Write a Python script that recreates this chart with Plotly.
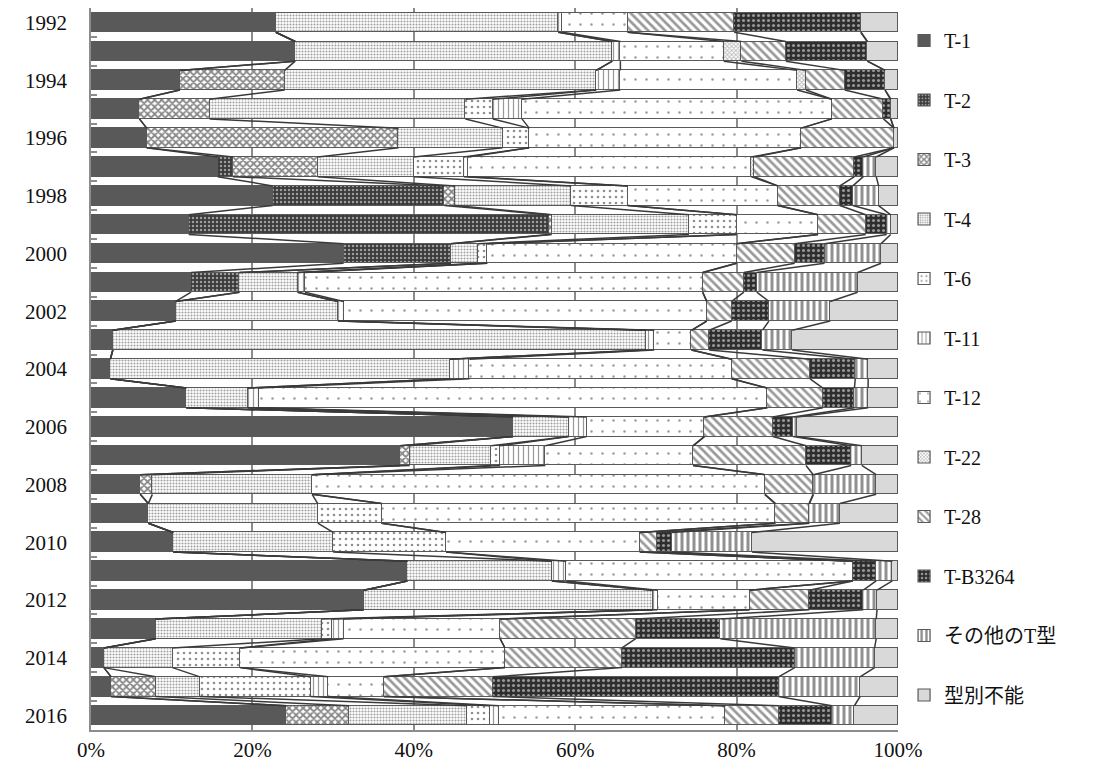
import plotly.graph_objects as go

years = list(range(1992, 2017))
series_names = ["T-1", "T-2", "T-3", "T-4", "T-6", "T-11", "T-12", "T-22", "T-28", "T-B3264", "その他のT型", "型別不能"]

t1 = [22.9, 25.3, 11.0, 6.0, 6.9, 15.7, 22.5, 12.1, 31.3, 12.4, 10.5, 2.7, 2.4, 11.8, 52.3, 38.3, 6.1, 7.1, 10.2, 39.2, 33.8, 8.0, 1.6, 2.5, 24.2]
t2 = [0, 0, 0, 0, 0, 1.9, 21.3, 44.7, 13.3, 6.0, 0, 0, 0, 0, 0, 0, 0, 0, 0, 0, 0, 0, 0, 0, 0]
t3 = [0, 0, 13.0, 8.7, 31.2, 10.5, 1.3, 0.3, 0, 0, 0, 0, 0, 0, 0, 1.2, 1.5, 0, 0, 0, 0, 0, 0, 5.5, 7.8]
t4 = [35.0, 39.3, 38.6, 31.7, 12.9, 11.9, 14.4, 17.0, 3.4, 7.2, 20.1, 66.1, 42.1, 7.6, 6.9, 10.1, 19.8, 21.0, 19.8, 17.9, 35.8, 20.6, 8.5, 5.5, 14.6]
t6 = [0, 0, 0, 3.4, 3.3, 6.2, 7.0, 5.9, 1.1, 0, 0, 0, 0, 0, 0, 1.1, 0, 7.9, 14.0, 0, 0, 1.3, 8.4, 13.7, 2.8]
t11 = [0.5, 1.0, 3.0, 3.6, 0, 0.5, 0, 0, 0, 0.9, 0.7, 1.0, 2.4, 1.4, 2.2, 5.6, 0, 0, 0, 1.8, 0.6, 1.4, 0, 2.2, 1.1]
t12 = [8.1, 12.8, 21.9, 38.4, 33.7, 35.1, 18.6, 10.1, 30.9, 49.3, 45.0, 4.6, 32.5, 63.0, 14.6, 18.3, 56.1, 48.8, 24.0, 35.5, 11.4, 19.4, 32.8, 6.9, 28.1]
t22 = [0, 2.2, 1.1, 0, 0, 0.4, 0, 0, 0, 0, 0, 0, 0, 0, 0, 0, 0, 0, 0, 0, 0, 0, 0, 0, 0]
t28 = [13.2, 5.5, 4.8, 6.4, 11.5, 12.4, 7.7, 5.9, 7.2, 5.1, 3.1, 2.2, 9.7, 6.9, 8.5, 14.0, 6.0, 4.2, 2.1, 0, 7.4, 16.8, 14.5, 13.5, 6.6]
tb3264 = [15.7, 10.1, 5.0, 0.9, 0, 1.1, 1.6, 2.6, 3.7, 1.6, 4.6, 6.6, 5.6, 3.9, 2.5, 5.6, 0, 0, 1.9, 2.9, 6.7, 10.5, 21.4, 35.4, 6.6]
other = [0, 0, 0, 0, 0, 1.6, 3.2, 0.5, 7.0, 12.5, 7.6, 3.7, 1.6, 1.7, 0.5, 1.3, 7.8, 3.8, 9.9, 2.0, 1.7, 19.3, 9.9, 10.1, 2.8]
unknown = [4.6, 3.8, 1.6, 0.9, 0.5, 2.7, 2.4, 0.9, 2.1, 5.0, 8.4, 13.1, 3.7, 3.7, 12.5, 4.5, 2.7, 7.2, 18.1, 0.7, 2.6, 2.7, 2.9, 4.7, 5.4]

x_ticks = [0, 20, 40, 60, 80, 100]
x_tick_labels = ["0%", "20%", "40%", "60%", "80%", "100%"]

data = [t1, t2, t3, t4, t6, t11, t12, t22, t28, tb3264, other, unknown]

# styles: (bg color, pattern shape, fg color, size, solidity)
styles = [
    ("#595959", "", None, None, None),
    ("#3a3a3a", ".", "#ffffff", 4, 0.3),
    ("#ffffff", "x", "#111111", 5, 0.6),
    ("#ffffff", ".", "#444444", 3, 0.4),
    ("#ffffff", ".", "#222222", 6, 0.15),
    ("#ffffff", "|", "#333333", 5, 0.25),
    ("#ffffff", ".", "#333333", 11, 0.04),
    ("#ffffff", "x", "#777777", 3, 0.5),
    ("#ffffff", "\\", "#333333", 6, 0.45),
    ("#2e2e2e", ".", "#ffffff", 5, 0.3),
    ("#ffffff", "|", "#222222", 6, 0.5),
    ("#d9d9d9", "", None, None, None),
]

ypos = list(range(len(years)))
bar_w = 0.68
FONT = "'Liberation Serif', 'Noto Sans CJK JP', serif"

fig = go.Figure()

# series lines connecting cumulative boundaries between adjacent bars
cum = [0.0] * len(years)
for k, vals in enumerate(data[:-1]):
    cum = [c + v for c, v in zip(cum, vals)]
    lx, ly = [], []
    for i in range(len(years) - 1):
        lx += [cum[i], cum[i + 1], None]
        ly += [ypos[i] + bar_w / 2, ypos[i + 1] - bar_w / 2, None]
    fig.add_trace(go.Scatter(x=lx, y=ly, mode="lines", line=dict(color="#3a3a3a", width=1.5),
                             showlegend=False, hoverinfo="skip"))

for name, vals, st in zip(series_names, data, styles):
    bg, shape, fg, size, sol = st
    marker = dict(color=bg, line=dict(color="#595959", width=1.2))
    if shape:
        marker["pattern"] = dict(shape=shape, fgcolor=fg, bgcolor=bg, size=size,
                                 solidity=sol, fillmode="overlay")
    fig.add_trace(go.Bar(x=vals, y=ypos, orientation="h", name=name, width=bar_w,
                         marker=marker, legendgroup=name))

fig.update_layout(
    barmode="stack",
    width=1100, height=778,
    margin=dict(l=91, r=202, t=8, b=48),
    paper_bgcolor="white", plot_bgcolor="white",
    font=dict(family=FONT, size=21, color="#111111"),
    legend=dict(x=1.0075, y=0.982, xanchor="left", yanchor="top", traceorder="grouped",
                tracegroupgap=30.5, font=dict(size=20, family=FONT),
                bgcolor="rgba(0,0,0,0)"),
    bargap=0,
)
fig.update_xaxes(range=[0, 100], tickmode="array", tickvals=x_ticks, ticktext=x_tick_labels,
                 showgrid=True, gridcolor="#8c8c8c", gridwidth=1.5, zeroline=False,
                 showline=True, linecolor="#8c8c8c", linewidth=1.5, ticks="")
fig.update_yaxes(range=[len(years) - 0.5, -0.5], tickvals=ypos[::2],
                 ticktext=[str(y) for y in years[::2]], showgrid=False, zeroline=False,
                 showline=True, linecolor="#8c8c8c", linewidth=1.5, ticks="",
                 ticklabelstandoff=18,
                 minor=dict(tickvals=[i + 0.5 for i in ypos[:-1]], ticks="inside",
                            ticklen=6, tickcolor="#8c8c8c", tickwidth=1.5))

fig.write_html("out.html")
